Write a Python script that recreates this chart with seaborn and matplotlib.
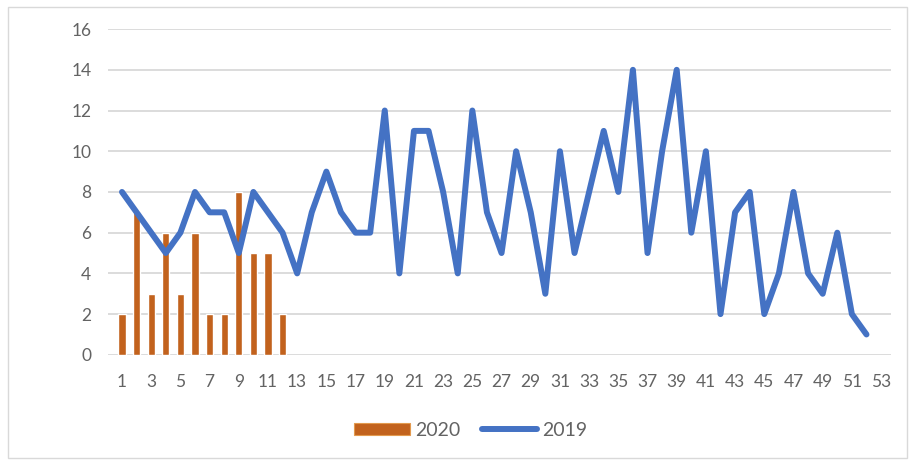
import matplotlib
matplotlib.use("Agg")
import matplotlib.pyplot as plt
import matplotlib.patches as mpatches
from matplotlib.lines import Line2D
import seaborn as sns
import pandas as pd

# Weekly counts
weeks_2020 = [1, 2, 3, 4, 5, 6, 7, 8, 9, 10, 11, 12]
cases_2020 = [2, 7, 3, 6, 3, 6, 2, 2, 8, 5, 5, 2]

weeks_2019 = [1, 2, 3, 4, 5, 6, 7, 8, 9, 10, 11, 12, 13, 14, 15, 16, 17, 18,
              19, 20, 21, 22, 23, 24, 25, 26, 27, 28, 29, 30, 31, 32, 33, 34,
              35, 36, 37, 38, 39, 40, 41, 42, 43, 44, 45, 46, 47, 48, 49, 50,
              51, 52]
cases_2019 = [8, 7, 6, 5, 6, 8, 7, 7, 5, 8, 7, 6, 4, 7, 9, 7, 6, 6,
              12, 4, 11, 11, 8, 4, 12, 7, 5, 10, 7, 3, 10, 5, 8, 11,
              8, 14, 5, 10, 14, 6, 10, 2, 7, 8, 2, 4, 8, 4, 3, 6,
              2, 1]

x_ticks = [1, 3, 5, 7, 9, 11, 13, 15, 17, 19, 21, 23, 25, 27, 29, 31, 33, 35,
           37, 39, 41, 43, 45, 47, 49, 51, 53]
y_ticks = [0, 2, 4, 6, 8, 10, 12, 14, 16]

label_2020 = "2020"
label_2019 = "2019"

BAR_COLOR = "#C2621D"
LINE_COLOR = "#4472C4"
TEXT_COLOR = "#636363"
GRID_COLOR = "#D9D9D9"

sns.set_theme(style="white")
plt.rcParams["font.family"] = ["Lato", "DejaVu Sans"]

df20 = pd.DataFrame({"week": weeks_2020, "cases": cases_2020})
df19 = pd.DataFrame({"week": weeks_2019, "cases": cases_2019})

fig = plt.figure(figsize=(9.09, 4.62), dpi=100)
ax = fig.add_axes([0.1188, 0.232, 0.8614, 0.705])

sns.barplot(data=df20, x="week", y="cases", native_scale=True, width=0.5,
            color=BAR_COLOR, saturation=1, ax=ax, zorder=2)
sns.lineplot(data=df19, x="week", y="cases", color=LINE_COLOR, lw=4.3,
             ax=ax, zorder=3, solid_joinstyle="round", solid_capstyle="round")

ax.set_xlim(0.04, 53.68)
ax.set_ylim(0, 16)
ax.set_xticks(x_ticks)
ax.set_xticklabels([str(t) for t in x_ticks])
ax.set_yticks(y_ticks)
ax.set_yticklabels([str(t) for t in y_ticks])
ax.set_xlabel("")
ax.set_ylabel("")

ax.yaxis.grid(True, color=GRID_COLOR, lw=1.3, zorder=0)
ax.set_axisbelow(True)
for s in ax.spines.values():
    s.set_visible(False)
ax.tick_params(axis="both", length=0, labelsize=12.5, labelcolor=TEXT_COLOR)
ax.tick_params(axis="x", pad=14)
ax.tick_params(axis="y", pad=12)

handles = [
    mpatches.Patch(facecolor=BAR_COLOR, edgecolor="#E39A4E", lw=0.8),
    Line2D([0], [0], color=LINE_COLOR, lw=4.3, solid_capstyle="round"),
]
fig.legend(handles, [label_2020, label_2019], loc="center",
           bbox_to_anchor=(0.518, 0.069), ncol=2, frameon=False,
           fontsize=14, labelcolor=TEXT_COLOR, handlelength=2.85,
           handleheight=0.55, handletextpad=0.26, columnspacing=1.13)

# light frame around the whole chart
fig.patches.append(mpatches.Rectangle((0.009, 0.009), 0.989, 0.975,
                                      transform=fig.transFigure, fill=False,
                                      edgecolor="#D9D9D9", lw=1))

fig.savefig("out.png", dpi=100)
